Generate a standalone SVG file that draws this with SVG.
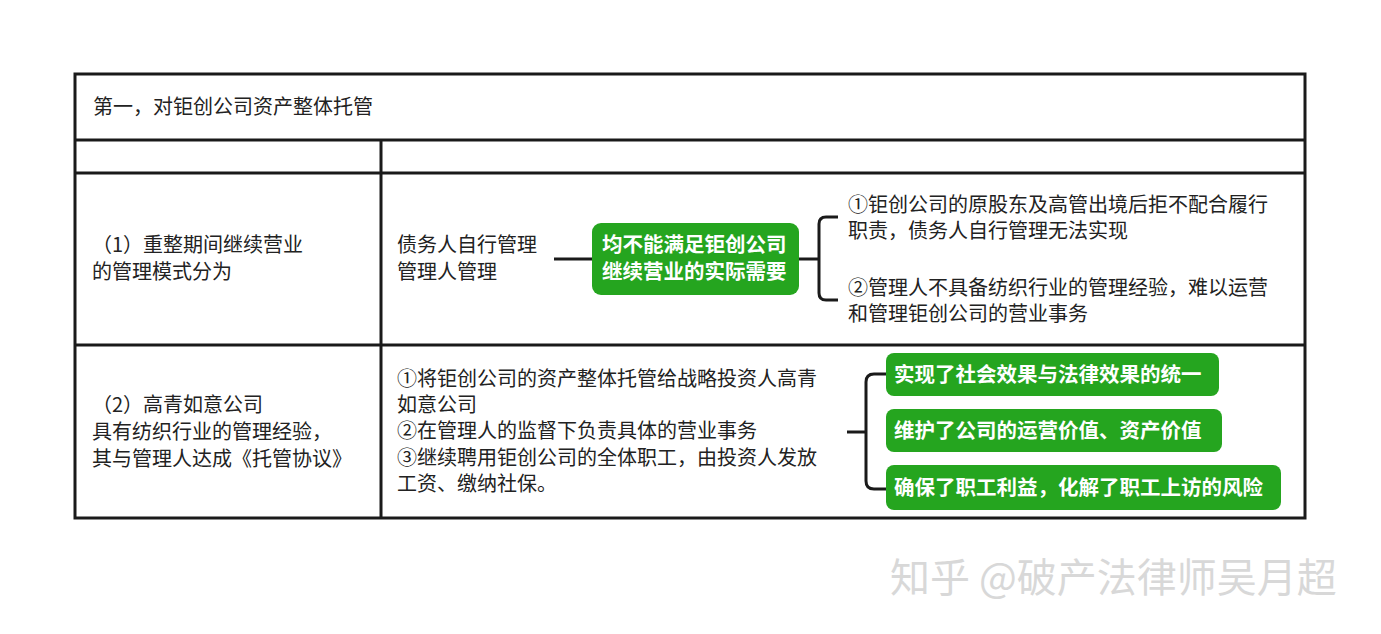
<svg xmlns="http://www.w3.org/2000/svg" width="1381" height="634" viewBox="0 0 1381 634">
<style>
text{font-family:"Noto Sans CJK SC",sans-serif;font-size:20px;fill:#222}
.g{fill:#25a51f}
.w{fill:#fff;font-weight:bold;font-size:20.5px}
.ln{stroke:#1a1a1a;stroke-width:3;fill:none}
</style>
<rect width="1381" height="634" fill="#fff"/>
<g id="table">
<rect x="75" y="74" width="1230" height="444" fill="none" stroke="#1a1a1a" stroke-width="3"/>
<line class="ln" x1="75" y1="140" x2="1305" y2="140"/>
<line class="ln" x1="75" y1="173" x2="1305" y2="173"/>
<line class="ln" x1="75" y1="345" x2="1305" y2="345"/>
<line class="ln" x1="381" y1="140" x2="381" y2="518"/>
<text x="93" y="114">第一，对钜创公司资产整体托管</text>
</g>
<g id="row1-label"><text x="92" y="252">（1）重整期间继续营业</text><text x="92" y="279">的管理模式分为</text></g>
<g id="modes"><text x="397" y="252">债务人自行管理</text><text x="397" y="279">管理人管理</text></g>
<g id="need"><rect class="g" x="592" y="223" width="207" height="72" rx="9"/><text class="w" x="602" y="252">均不能满足钜创公司</text><text class="w" x="602" y="279">继续营业的实际需要</text></g>
<g id="r1"><text x="848" y="212">①钜创公司的原股东及高管出境后拒不配合履行</text><text x="848" y="238">职责，债务人自行管理无法实现</text></g>
<g id="r2"><text x="848" y="295">②管理人不具备纺织行业的管理经验，难以运营</text><text x="848" y="321">和管理钜创公司的营业事务</text></g>
<g id="row2-label"><text x="92" y="412">（2）高青如意公司</text><text x="92" y="439">具有纺织行业的管理经验，</text><text x="92" y="466">其与管理人达成《托管协议》</text></g>
<g id="measures"><text x="397" y="386">①将钜创公司的资产整体托管给战略投资人高青</text><text x="397" y="412">如意公司</text><text x="397" y="438">②在管理人的监督下负责具体的营业事务</text><text x="397" y="465">③继续聘用钜创公司的全体职工，由投资人发放</text><text x="397" y="491">工资、缴纳社保。</text></g>
<g id="e1"><rect class="g" x="886" y="353" width="333" height="43" rx="8"/><text class="w" x="894" y="382">实现了社会效果与法律效果的统一</text></g>
<g id="e2"><rect class="g" x="886" y="409" width="336" height="43" rx="8"/><text class="w" x="894" y="438">维护了公司的运营价值、资产价值</text></g>
<g id="e3"><rect class="g" x="886" y="465" width="395" height="45" rx="8"/><text class="w" x="894" y="495">确保了职工利益，化解了职工上访的风险</text></g>
<g id="connectors">
<line class="ln" x1="554" y1="259" x2="592" y2="259"/>
<line class="ln" x1="799" y1="259" x2="819" y2="259"/>
<path class="ln" d="M838 217 H826 Q819 217 819 224 V293 Q819 300 826 300 H838"/>
<line class="ln" x1="847" y1="432" x2="866" y2="432"/>
<path class="ln" d="M886 374 H874 Q866 374 866 382 V481 Q866 489 874 489 H886"/>
</g>
<text x="890" y="592" style="font-size:40px;fill:#d8d8d8">知乎 @破产法律师吴月超</text>
</svg>
